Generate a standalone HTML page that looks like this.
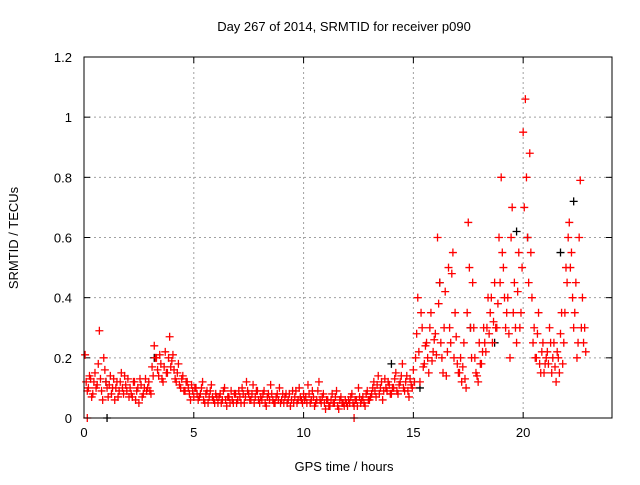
<!DOCTYPE html>
<html><head><meta charset="utf-8"><style>
body{margin:0;background:#fff;}
svg text{font-family:"Liberation Sans",sans-serif;font-size:13px;fill:#000;}
</style></head><body>
<svg id="chart" width="640" height="480">
<text x="344" y="31" text-anchor="middle">Day 267 of 2014, SRMTID for receiver p090</text>
<text transform="translate(18,238) rotate(-90)" text-anchor="middle">SRMTID / TECUs</text>
<text x="344" y="471" text-anchor="middle">GPS time / hours</text>
<g id="grid"></g><g id="ticks"></g><g id="marks"></g>
<rect x="84" y="57" width="528" height="361" fill="none" stroke="#000"/>
</svg>
<script>
const xTicks=[0,5,10,15,20];
const yTicks=[0,0.2,0.4,0.6,0.8,1,1.2];
const yTickLabels=["0","0.2","0.4","0.6","0.8","1","1.2"];
const valsA=[0.12,0.1,0.13,0.08,0.15,0.11,0.29,0.09,0.2,0.12,
0.07,0.14,0.1,0.06,0.12,0.09,0.15,0.08,0.11,0.13,
0.1,0.07,0.12,0.09,0.05,0.11,0.08,0.13,0.1,0.09,
0.17,0.24,0.2,0.14,0.18,0.12,0.22,0.15,0.27,0.19,
0.16,0.12,0.18,0.1,0.14,0.09,0.12,0.08,0.11,0.07,
0.1,0.06,0.08,0.12,0.05,0.09,0.07,0.11,0.06,0.08,
0.05,0.08,0.06,0.1,0.04,0.07,0.09,0.05,0.08,0.06,
0.07,0.1,0.05,0.12,0.08,0.06,0.11,0.07,0.09,0.05,
0.06,0.09,0.04,0.08,0.11,0.06,0.05,0.08,0.1,0.06,
0.05,0.08,0.06,0.04,0.09,0.07,0.05,0.1,0.06,0.08,
0.07,0.11,0.05,0.09,0.04,0.06,0.12,0.05,0.08,0.03,
0.06,0.04,0.08,0.05,0.09,0.03,0.07,0.05,0.06,0.04,
0.05,0.08,0.04,0.06,0.1,0.05,0.07,0.04,0.09,0.06,
0.08,0.12,0.07,0.14,0.1,0.06,0.13,0.09,0.11,0.08,
0.1,0.15,0.08,0.12,0.18,0.09,0.14,0.07,0.11,0.16,
0.2,0.4,0.12,0.3,0.18,0.25,0.15,0.35,0.22,0.28,
0.6,0.45,0.2,0.3,0.14,0.5,0.25,0.55,0.35,0.18,
0.15,0.12,0.25,0.1,0.65,0.3,0.45,0.2,0.14,0.25,
0.18,0.3,0.22,0.4,0.35,0.25,0.45,0.3,0.6,0.8,
0.5,0.3,0.4,0.2,0.7,0.45,0.25,0.55,0.35,0.95,
1.06,0.6,0.88,0.4,0.3,0.2,0.35,0.15,0.25,0.18,
0.22,0.3,0.15,0.25,0.12,0.2,0.28,0.18,0.35,0.45,
0.65,0.55,0.3,0.45,0.25,0.79,0.4,0.3];
const valsB=[0.09,0.14,0.07,0.12,0.1,0.18,0.13,0.06,0.16,0.1,
0.11,0.08,0.13,0.1,0.07,0.12,0.1,0.14,0.09,0.07,
0.08,0.12,0.06,0.1,0.13,0.07,0.1,0.09,0.12,0.08,
0.14,0.2,0.16,0.21,0.13,0.17,0.15,0.2,0.17,0.21,
0.13,0.15,0.11,0.13,0.09,0.12,0.1,0.06,0.09,0.1,
0.08,0.07,0.1,0.06,0.08,0.05,0.09,0.07,0.05,0.07,
0.07,0.05,0.09,0.06,0.07,0.05,0.06,0.08,0.05,0.09,
0.05,0.08,0.07,0.09,0.06,0.08,0.05,0.09,0.06,0.07,
0.08,0.05,0.07,0.06,0.08,0.05,0.07,0.06,0.05,0.08,
0.07,0.05,0.08,0.06,0.05,0.09,0.06,0.07,0.05,0.06,
0.05,0.08,0.06,0.07,0.05,0.09,0.06,0.07,0.05,0.06,
0.04,0.06,0.05,0.07,0.04,0.06,0.05,0.04,0.05,0.06,
0.07,0.05,0.06,0.04,0.07,0.06,0.05,0.08,0.06,0.07,
0.1,0.09,0.11,0.08,0.12,0.09,0.1,0.12,0.08,0.1,
0.13,0.09,0.11,0.14,0.1,0.12,0.09,0.13,0.1,0.12,
0.28,0.22,0.35,0.17,0.24,0.2,0.3,0.19,0.26,0.21,
0.38,0.25,0.15,0.42,0.22,0.3,0.48,0.2,0.27,0.15,
0.2,0.17,0.13,0.35,0.5,0.2,0.3,0.15,0.12,0.18,
0.22,0.25,0.3,0.28,0.4,0.32,0.3,0.38,0.45,0.55,
0.4,0.35,0.28,0.6,0.35,0.3,0.42,0.3,0.5,0.7,
0.8,0.45,0.55,0.25,0.2,0.28,0.18,0.22,0.15,0.2,
0.18,0.25,0.2,0.17,0.22,0.15,0.35,0.25,0.5,0.6,
0.5,0.4,0.35,0.2,0.6,0.3,0.25,0.22];
const valsBlack=[0.12,0.2,0.18,0.1,0.45,0.3,0.62,0.25,0.55,0.72,0.6];
const timesBlack=[1.0,3.2,14.0,15.3,16.2,17.6,19.7,18.7,21.7,22.3,20.2];
const xs=h=>84+h*(527/24);
const ys=v=>418-v*(361/1.2);
const NS="http://www.w3.org/2000/svg";
const grid=document.getElementById('grid'),ticks=document.getElementById('ticks'),marks=document.getElementById('marks');
function mk(tag,attrs,parent){const e=document.createElementNS(NS,tag);for(const k in attrs)e.setAttribute(k,attrs[k]);parent.appendChild(e);return e;}
xTicks.forEach(t=>{const x=xs(t);
 if(t>0){const g=mk('line',{x1:x,x2:x,y1:57,y2:418,stroke:'#a0a0a0','stroke-dasharray':'2,3'},grid);
 
 }
 mk('line',{x1:x,x2:x,y1:418,y2:412,stroke:'#000'},ticks);mk('line',{x1:x,x2:x,y1:57,y2:63,stroke:'#000'},ticks);
 const l=mk('text',{x:x,y:437,'text-anchor':'middle'},ticks);l.textContent=t;
 
 });
yTicks.forEach((t,i)=>{const y=ys(t);
 if(t>0&&t<1.2){const g=mk('line',{x1:84,x2:612,y1:y,y2:y,stroke:'#a0a0a0','stroke-dasharray':'2,3'},grid);
 
 }
 mk('line',{x1:84,x2:90,y1:y,y2:y,stroke:'#000'},ticks);mk('line',{x1:606,x2:612,y1:y,y2:y,stroke:'#000'},ticks);
 const l=mk('text',{x:72,y:y+5,'text-anchor':'end'},ticks);l.textContent=yTickLabels[i];
 
 });
function plus(t,v,c,name){const x=xs(t),y=ys(v);
 const p=mk('path',{d:`M${x-4},${y}H${x+4}M${x},${y-4}V${y+4}`,stroke:c,'stroke-width':1.3,fill:'none'},marks);
 
 }
timesBlack.forEach((t,i)=>plus(t,valsBlack[i],'#000','black-point'));
valsA.forEach((v,i)=>plus(0.1+i*0.1,v,'#f00','red-point'));
valsB.forEach((v,i)=>plus(0.15+i*0.1,v,'#f00','red-point'));
plus(0.05,0.21,'#f00','red-point');plus(0.15,0,'#f00','red-point');plus(12.3,0,'#f00','red-point');plus(1.05,0,'#000','black-point');
</script>
</body></html>
